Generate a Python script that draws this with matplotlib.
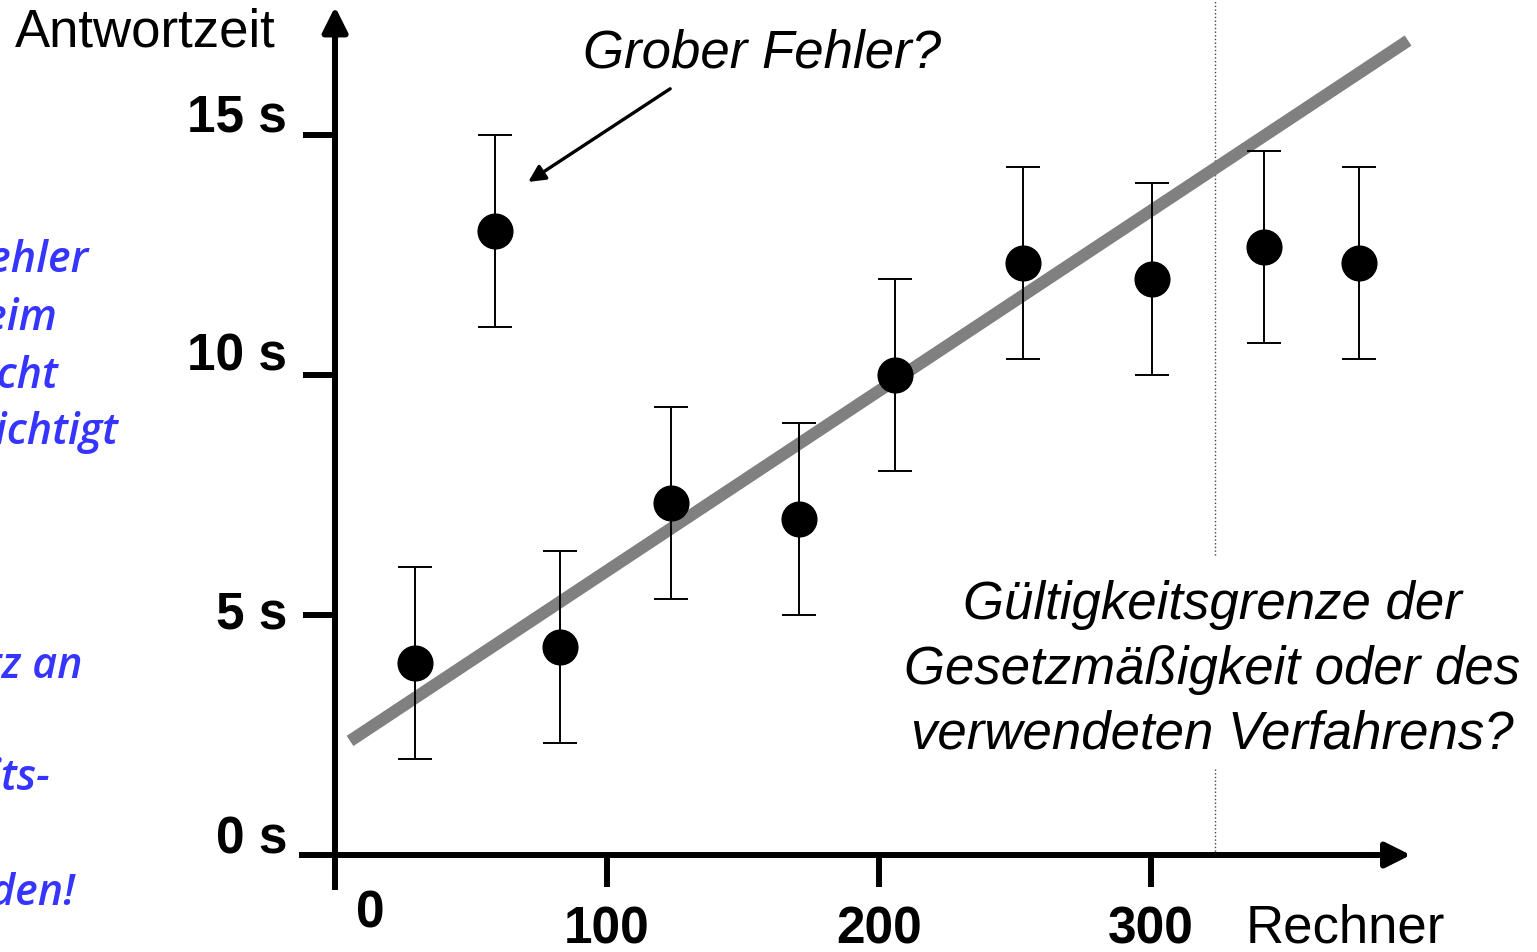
import matplotlib.pyplot as plt

plt.rcParams['font.family'] = ['Liberation Sans', 'DejaVu Sans']

# Messwerte: Anzahl Rechner, mittlere Antwortzeit [s], Fehlerbalken [s]
rechner = [29.4, 58.8, 82.7, 123.5, 170.6, 205.9, 252.9, 300.4, 341.5, 376.5]
antwortzeit = [4.0, 13.0, 4.33, 7.33, 7.0, 10.0, 12.33, 12.0, 12.67, 12.33]
fehler = [2.0] * 10

# Ausgleichsgerade y = a + b*x
achsenabschnitt = 2.17
steigung = 0.0375
gerade_x = [5.5, 394.5]

x_ticks = [0, 100, 200, 300]
y_ticks = [0, 5, 10, 15]
y_ticklabels = ['0 s', '5 s', '10 s', '15 s']
grenze_x = 323.5

notiz_zeilen = ['Grobe Fehler', 'werden beim', 'Ausgleich nicht', 'berücksichtigt',
                'Ansatz an', 'Gültigkeits-', 'gebunden!']
notiz_x = [-90.8, -102.2, -101.8, -79.7, -92.6, -105.0, -95.6]
notiz_y = [12.17, 10.96, 9.75, 8.58, 3.71, 1.38, -1.02]

fig = plt.figure(figsize=(15.37, 9.53), dpi=100)
ax = fig.add_axes([0, 0, 1, 1])
ax.set_xlim(-123.2, 441.9)
ax.set_ylim(-2.02, 17.83)

# Achsen mit Pfeilen
for s in ['top', 'right']:
    ax.spines[s].set_visible(False)
ax.spines['left'].set_position(('data', 0))
ax.spines['bottom'].set_position(('data', 0))
ax.spines['left'].set_bounds(-0.67, 17.2)
ax.spines['bottom'].set_bounds(-12, 390)
ax.spines['left'].set_linewidth(4.3)
ax.spines['bottom'].set_linewidth(4.3)
ax.annotate('', xy=(395.5, 0), xytext=(380, 0),
            arrowprops=dict(arrowstyle='-|>', color='black', lw=4.3, mutation_scale=38,
                            shrinkA=0, shrinkB=0))
ax.annotate('', xy=(0, 17.67), xytext=(0, 17.0),
            arrowprops=dict(arrowstyle='-|>', color='black', lw=4.3, mutation_scale=38,
                            shrinkA=0, shrinkB=0))

ax.set_xticks(x_ticks)
ax.set_yticks(y_ticks)
ax.tick_params(direction='out', length=23, width=4.3, labelbottom=False, labelleft=False)

# Beschriftung der Achsen
for xt in x_ticks[1:]:
    ax.text(xt, -1.54, str(xt), ha='center', va='center', fontsize=37, fontweight='bold')
ax.text(12.9, -1.2, '0', ha='center', va='center', fontsize=37, fontweight='bold')
y_versatz = [0.34, 0.03, 0.4, 0.37]
for yt, lab, dy in zip(y_ticks, y_ticklabels, y_versatz):
    ax.text(-17.6, yt + dy, lab, ha='right', va='center', fontsize=37, fontweight='bold')
ax.text(-117.6, 17.15, 'Antwortzeit', ha='left', va='center', fontsize=38)
ax.text(334.6, -1.52, 'Rechner', ha='left', va='center', fontsize=38)

# Gültigkeitsgrenze
ax.plot([grenze_x, grenze_x], [0, 1.79], ls=':', lw=1, color='#444444')
ax.plot([grenze_x, grenze_x], [6.25, 17.83], ls=':', lw=1, color='#444444')

# Ausgleichsgerade
gerade_y = [achsenabschnitt + steigung * x for x in gerade_x]
ax.plot(gerade_x, gerade_y, color='#808080', lw=8.8, solid_capstyle='butt', zorder=2)

# Messpunkte mit Fehlerbalken
ax.errorbar(rechner, antwortzeit, yerr=fehler, fmt='o', color='black', ms=25,
            elinewidth=1.4, capsize=12, capthick=1.4, zorder=3)

ax.annotate('', xy=(71.0, 14.02), xytext=(123.2, 15.96),
            arrowprops=dict(arrowstyle='-|>', color='black', lw=2.4, mutation_scale=25,
                            shrinkA=0, shrinkB=0))
ax.text(157.0, 16.42, 'Grober Fehler?', ha='center', va='baseline', fontsize=38, style='italic')
ax.text(322.4, 3.88, 'Gültigkeitsgrenze der\nGesetzmäßigkeit oder des\nverwendeten Verfahrens?',
        ha='center', va='center', fontsize=38, style='italic', linespacing=1.37)

# Randnotiz
for zeile, nx, ny in zip(notiz_zeilen, notiz_x, notiz_y):
    ax.text(nx, ny, zeile, ha='right', va='baseline', fontsize=31, style='italic',
            fontweight='semibold', color='#3535FF', family=['Open Sans', 'DejaVu Sans'])

fig.savefig('out.png', dpi=100)
